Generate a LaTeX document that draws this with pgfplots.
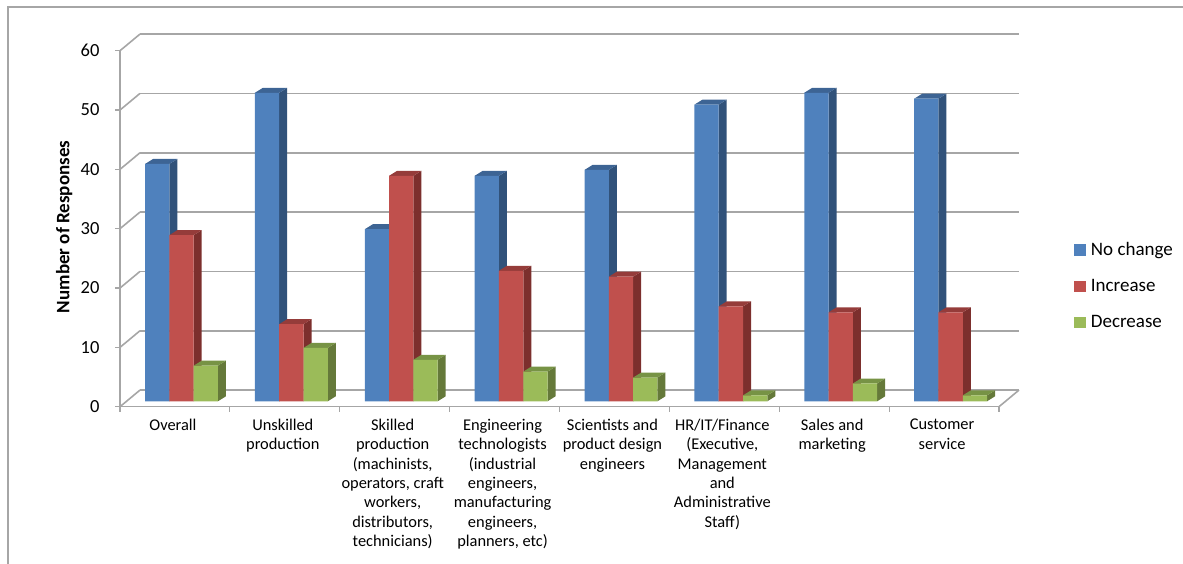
\documentclass[border=0pt]{standalone}
\usepackage{fontspec}
\setmainfont{Carlito}
\usepackage{pgfplots}
\usepackage{pgfplotstable}
\pgfplotsset{compat=1.18}

\definecolor{bluefront}{HTML}{4F81BD}
\definecolor{blueside}{HTML}{31527A}
\definecolor{bluetop}{HTML}{3D6494}
\definecolor{redfront}{HTML}{C0504D}
\definecolor{redside}{HTML}{7C2F2D}
\definecolor{redtop}{HTML}{953C3A}
\definecolor{greenfront}{HTML}{9BBB59}
\definecolor{greenside}{HTML}{65793A}
\definecolor{greentop}{HTML}{779345}
\definecolor{wallgray}{HTML}{A6A6A6}

\pgfplotstableread{
cat nochange increase decrease
0   40       28       6
1   52       13       9
2   29       38       7
3   38       22       5
4   39       21       4
5   50       16       1
6   52       15       3
7   51       15       1
}\responses

% back wall offset and bar depth, in axis units
\def\depthx{0.0728}
\def\depthy{0.84}
\def\barw{0.2211}

% side and top faces of one series: column, right edge, side colour, top colour
\newcommand{\barfaces}[4]{%
  \pgfplotsforeachungrouped \i in {0,...,7}{%
    \pgfplotstablegetelem{\i}{#1}\of\responses
    \pgfmathsetmacro\xa{\i+#2}%
    \pgfmathsetmacro\xb{\xa+\depthx}%
    \pgfmathsetmacro\xc{\xa-\barw}%
    \pgfmathsetmacro\xd{\xb-\barw}%
    \pgfmathsetmacro\va{\pgfplotsretval}%
    \pgfmathsetmacro\vb{\va+\depthy}%
    \edef\temp{\noexpand\addplot[forget plot,draw=none,fill=#3] coordinates {(\xa,0) (\xa,\va) (\xb,\vb) (\xb,\depthy)};
      \noexpand\addplot[forget plot,draw=none,fill=#4] coordinates {(\xc,\va) (\xa,\va) (\xb,\vb) (\xd,\vb)};}%
    \temp
  }%
}

\pgfplotsset{
  swatch/.style={legend image code/.code={\fill[##1] (0pt,-5.7pt) rectangle (12pt,5.7pt);}},
  wall/.style={wallgray,line width=1.6pt},
}

\begin{document}
\begin{tikzpicture}[x=1pt,y=1pt]
  \useasboundingbox (0,0) rectangle (1183,564);
  \draw[wallgray,line width=1.6pt] (8,0) -- (8,557) -- (1183,557);

  % walls, floor and ticks
  \begin{axis}[
    at={(120pt,157.3pt)},anchor=south west,
    scale only axis,width=879pt,height=356pt,
    xmin=0,xmax=8,ymin=0,ymax=60,
    clip=false,
    axis x line*=bottom,axis y line*=left,
    axis line style={wallgray,line width=1.6pt,-},
    tick style={wallgray,line width=1.2pt},
    tick align=outside,major tick length=5pt,
    xtick={0,...,8},ytick={0,10,...,60},
    x tick label as interval,
    xticklabels={
      {Overall},
      {Unskilled\\production},
      {Skilled\\production\\(machinists,\\operators, craft\\workers,\\distributors,\\technicians)},
      {Engineering\\technologists\\(industrial\\engineers,\\manufacturing\\engineers,\\planners, etc)},
      {Scientists and\\product design\\engineers},
      {HR/IT/Finance\\(Executive,\\Management\\and\\Administrative\\Staff)},
      {Sales and\\marketing},
      {Customer\\service}},
    xticklabel style={align=center,font=\fontsize{16.4}{19.3}\selectfont,yshift=-4pt,xshift=-2pt},
    yticklabel style={font=\fontsize{18.5}{22}\selectfont,xshift=-12pt},
    /pgf/number format/assume math mode=true,
    ylabel={\textbf{Number of Responses}},
    ylabel style={at={(axis description cs:-0.0636,0.505)},anchor=center,font=\fontsize{19}{22}\selectfont},
  ]
    \addplot[wall] coordinates {(0.182,2.8) (8.182,2.8)};
    \addplot[wall] coordinates {(0.182,12.8) (8.182,12.8)};
    \addplot[wall] coordinates {(0.182,22.8) (8.182,22.8)};
    \addplot[wall] coordinates {(0.182,32.8) (8.182,32.8)};
    \addplot[wall] coordinates {(0.182,42.8) (8.182,42.8)};
    \addplot[wall] coordinates {(0.182,52.8) (8.182,52.8)};
    \addplot[wall] coordinates {(0.182,62.8) (8.182,62.8)};
    \addplot[wall] coordinates {(0,0) (0.182,2.8)};
    \addplot[wall] coordinates {(0,10) (0.182,12.8)};
    \addplot[wall] coordinates {(0,20) (0.182,22.8)};
    \addplot[wall] coordinates {(0,30) (0.182,32.8)};
    \addplot[wall] coordinates {(0,40) (0.182,42.8)};
    \addplot[wall] coordinates {(0,50) (0.182,52.8)};
    \addplot[wall] coordinates {(0,60) (0.182,62.8)};
    \addplot[wall] coordinates {(8,0) (8.182,2.8)};
  \end{axis}

  % the bars, categories at 0..7, bar bases sit a little behind the front edge
  \begin{axis}[
    at={(120pt,157.3pt)},anchor=south west,
    scale only axis,width=879pt,height=356pt,
    xmin=-0.5596,xmax=7.4404,ymin=-0.91,ymax=59.09,
    clip=false,
    hide axis,
    legend cell align=left,
    legend style={at={(axis description cs:1.085,0.339)},anchor=west,draw=none,fill=none,
      font=\fontsize{19}{22}\selectfont,row sep=18.2pt,inner sep=0pt},
  ]
    \barfaces{nochange}{-0.1105}{blueside}{bluetop}
    \addplot[ybar,bar width=24.3pt,bar shift=-24.3pt,fill=bluefront,draw=none,swatch]
      table[x=cat,y=nochange]{\responses};
    \addlegendentry{\hspace{3pt}No change}
    \barfaces{increase}{0.1105}{redside}{redtop}
    \addplot[ybar,bar width=24.3pt,bar shift=0pt,fill=redfront,draw=none,swatch]
      table[x=cat,y=increase]{\responses};
    \addlegendentry{\hspace{3pt}Increase}
    \barfaces{decrease}{0.3316}{greenside}{greentop}
    \addplot[ybar,bar width=24.3pt,bar shift=24.3pt,fill=greenfront,draw=none,swatch]
      table[x=cat,y=decrease]{\responses};
    \addlegendentry{\hspace{3pt}Decrease}
  \end{axis}
\end{tikzpicture}
\end{document}
